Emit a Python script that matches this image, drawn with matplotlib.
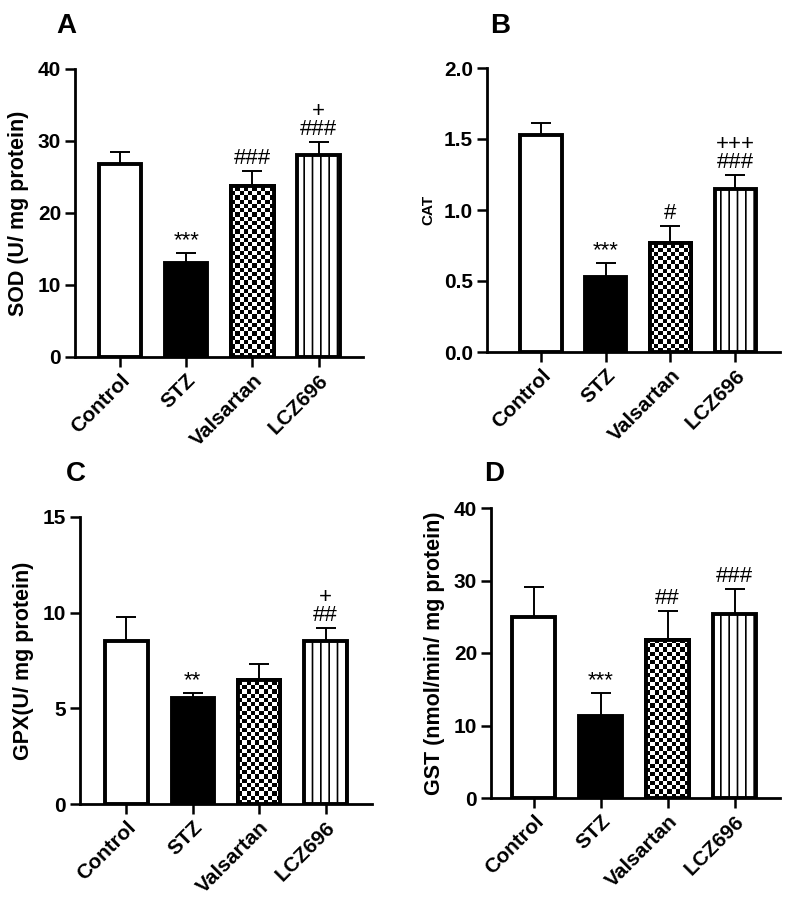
import numpy as np
import matplotlib
matplotlib.use("Agg")
from matplotlib import pyplot as plt

plt.rcParams['font.family'] = ['Liberation Sans', 'DejaVu Sans']
plt.rcParams['hatch.linewidth'] = 1.2

groups = ["Control", "STZ", "Valsartan", "LCZ696"]

sod_mean = [26.8, 13.0, 23.8, 28.0]
sod_err = [1.7, 1.5, 2.1, 1.9]
sod_marks = ["", "***", "###", "+\n###"]

cat_mean = [1.53, 0.53, 0.77, 1.15]
cat_err = [0.08, 0.10, 0.12, 0.10]
cat_marks = ["", "***", "#", "+++\n###"]

gpx_mean = [8.52, 5.54, 6.48, 8.52]
gpx_err = [1.25, 0.26, 0.84, 0.68]
gpx_marks = ["", "**", "", "+\n##"]

gst_mean = [25.0, 11.3, 21.8, 25.4]
gst_err = [4.1, 3.2, 4.0, 3.4]
gst_marks = ["", "***", "##", "###"]

W, H = 787, 908


def rect(l, t, r, b):
    return [l / W, 1 - b / H, (r - l) / W, (b - t) / H]


def panel(fig, box, xlim, means, errs, marks, ylabel, ylsize, yticks, yfmt, letter, letter_xy):
    ax = fig.add_axes(rect(*box))
    x = np.arange(len(groups))
    width = 0.64
    ymax = yticks[-1]

    ax.errorbar(x, means, yerr=[np.zeros(len(errs)), errs], fmt="none",
                ecolor="black", elinewidth=1.4, capsize=7, capthick=1.4, zorder=1)

    bars = ax.bar(x, means, width=width, color="white", edgecolor="black",
                  linewidth=2.8, zorder=3)
    bars[1].set_facecolor("black")
    bars[3].set_hatch("||")

    # checkerboard fill for valsartan
    bar = bars[2]
    px_w = width / (xlim[1] - xlim[0]) * (box[2] - box[0])
    px_h = means[2] / ymax * (box[3] - box[1])
    ncol = 10
    sq = px_w / ncol
    nrow = int(np.ceil(px_h / sq)) + 1
    board = (np.add.outer(np.arange(nrow), np.arange(ncol)) % 2).astype(float)
    img = ax.imshow(board, cmap="gray", interpolation="nearest", aspect="auto",
                    extent=[bar.get_x(), bar.get_x() + width, 0, nrow * sq / (box[3] - box[1]) * ymax],
                    origin="lower", zorder=3.2)
    img.set_clip_path(bar)
    ax.bar([x[2]], [means[2]], width=width, fill=False, edgecolor="black",
           linewidth=2.8, zorder=3.5)

    for xi, m, e, s in zip(x, means, errs, marks):
        if s:
            ax.text(xi, m + e + ymax * 0.006, s, ha="center", va="bottom",
                    fontsize=16, linespacing=0.8, zorder=4)

    ax.set_xlim(*xlim)
    ax.set_ylim(0, ymax)
    ax.set_yticks(yticks)
    ax.set_yticklabels([yfmt % v for v in yticks])
    ax.set_xticks(x)
    ax.set_xticklabels(groups, rotation=45, ha="right", rotation_mode="anchor")
    for lab in ax.get_xticklabels() + ax.get_yticklabels():
        lab.set_fontweight("bold")
        lab.set_fontsize(15)
    ax.tick_params(width=1.8, length=7, direction="out", pad=3)
    ax.spines["top"].set_visible(False)
    ax.spines["right"].set_visible(False)
    ax.spines["left"].set_linewidth(2)
    ax.spines["bottom"].set_linewidth(2)
    ax.set_ylabel(ylabel, fontsize=ylsize, fontweight="bold", labelpad=6)

    fig.text(letter_xy[0] / W, 1 - letter_xy[1] / H, letter, fontsize=20,
             fontweight="bold", ha="left", va="top")
    return ax


def main():
    fig = plt.figure(figsize=(W / 100, H / 100), dpi=100)

    panel(fig, (75, 69, 363, 357), (-0.68, 3.67), sod_mean, sod_err, sod_marks,
          "SOD (U/ mg protein)", 15.5, [0, 10, 20, 30, 40], "%d", "A", (56, 13))
    panel(fig, (487, 68, 780, 352), (-0.83, 3.69), cat_mean, cat_err, cat_marks,
          "CAT", 11, [0.0, 0.5, 1.0, 1.5, 2.0], "%.1f", "B", (490, 13))
    panel(fig, (80, 517, 372, 804), (-0.70, 3.70), gpx_mean, gpx_err, gpx_marks,
          "GPX(U/ mg protein)", 15.5, [0, 5, 10, 15], "%d", "C", (66, 461))
    panel(fig, (491, 508, 780, 798), (-0.64, 3.68), gst_mean, gst_err, gst_marks,
          "GST (nmol/min/ mg protein)", 15.5, [0, 10, 20, 30, 40], "%d", "D", (484, 461))

    fig.savefig("out.png", dpi=100)


if __name__ == '__main__':
    main()
